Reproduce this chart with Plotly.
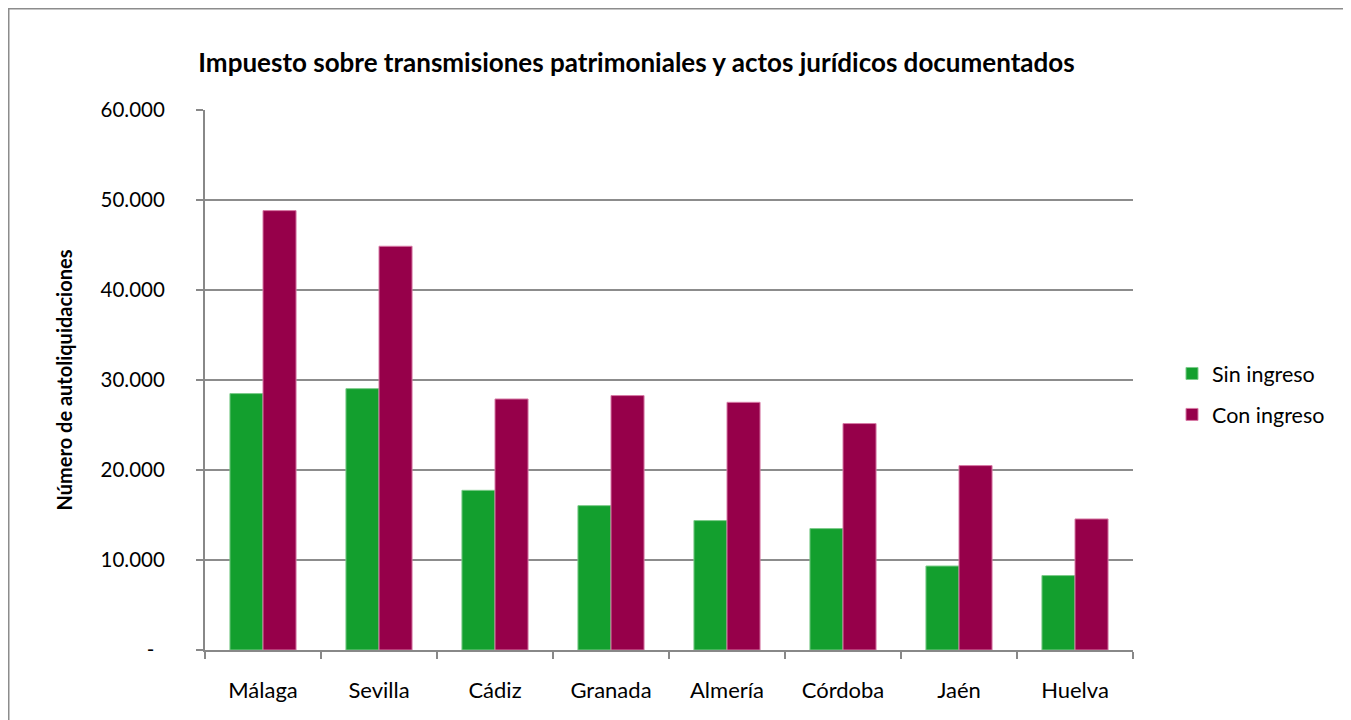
import plotly.graph_objects as go

categories = ["Málaga", "Sevilla", "Cádiz", "Granada", "Almería", "Córdoba", "Jaén", "Huelva"]
sin_ingreso = [28490, 29040, 17740, 16040, 14380, 13490, 9330, 8270]
con_ingreso = [48820, 44860, 27890, 28270, 27520, 25160, 20490, 14560]
y_tickvals = [0, 10000, 20000, 30000, 40000, 50000, 60000]
y_ticktext = ["-\u00a0\u00a0", "10.000", "20.000", "30.000", "40.000", "50.000", "60.000"]

FONT = "Lato, 'Open Sans', sans-serif"
GREEN = "#139F2E"
PURPLE = "#96004A"

fig = go.Figure()
fig.add_trace(go.Bar(
    x=categories, y=sin_ingreso, name="Sin ingreso", legendgroup="a",
    marker=dict(color=GREEN, line=dict(color="#7CCB8A", width=1)),
))
fig.add_trace(go.Bar(
    x=categories, y=con_ingreso, name="Con ingreso", legendgroup="b",
    marker=dict(color=PURPLE, line=dict(color="#D77BA6", width=1)),
))

# page is offset by 8px (body margin); coordinates below are figure pixels
OFF = 8
W, H = 1351, 720
L, R, T, B = 205 - OFF, 1133 - OFF, 110 - OFF, 650 - OFF
pw, ph = R - L, B - T

def px(xp):
    return (xp - OFF - L) / pw

def py(yp):
    return (B - (yp - OFF)) / ph

fig.update_layout(
    width=W, height=H,
    margin=dict(l=L, r=W - R, t=T, b=H - B, autoexpand=False),
    paper_bgcolor="white", plot_bgcolor="white",
    barmode="group", bargap=0.43, bargroupgap=0,
    font=dict(family=FONT, color="#000000", size=21),
    title=dict(
        text="<b>Impuesto sobre transmisiones patrimoniales y actos jurídicos documentados</b>",
        x=(636.5 - OFF) / W, xref="container", xanchor="center",
        y=1 - (63 - OFF) / H, yref="container", yanchor="middle",
        font=dict(family=FONT, size=26, color="#000000"),
    ),
    legend=dict(
        x=px(1172), y=py(394), xanchor="left", yanchor="middle",
        traceorder="grouped", tracegroupgap=10,
        font=dict(family=FONT, size=21.5, color="#000000"),
        bgcolor="rgba(0,0,0,0)", itemclick=False,
    ),
    xaxis=dict(
        showline=True, linecolor="#888888", linewidth=2,
        ticks="outside", ticklen=7, tickcolor="#888888", tickwidth=2,
        tickson="boundaries",
        ticklabelstandoff=20,
        tickfont=dict(family=FONT, size=22, color="#000000"),
        showgrid=False, automargin=False,
    ),
    yaxis=dict(
        range=[0, 60000], tickvals=y_tickvals, ticktext=y_ticktext,
        showline=True, linecolor="#888888", linewidth=2,
        ticks="outside", ticklen=7, tickcolor="#888888", tickwidth=2,
        showgrid=True, gridcolor="#8C8C8C", gridwidth=1.5,
        zeroline=False,
        ticklabelstandoff=27,
        tickfont=dict(family=FONT, size=20.5, color="#000000"),
        title=dict(text="<b>Número de autoliquidaciones</b>", standoff=23,
                   font=dict(family=FONT, size=20, color="#000000")),
        automargin=False,
    ),
    shapes=[dict(
        type="rect", xref="paper", yref="paper",
        x0=px(8.75), x1=px(1346.5), y0=py(730), y1=py(8.75),
        line=dict(color="#8C8C8C", width=1.5), fillcolor="rgba(0,0,0,0)", layer="below",
    )],
)

fig.write_html("out.html")
